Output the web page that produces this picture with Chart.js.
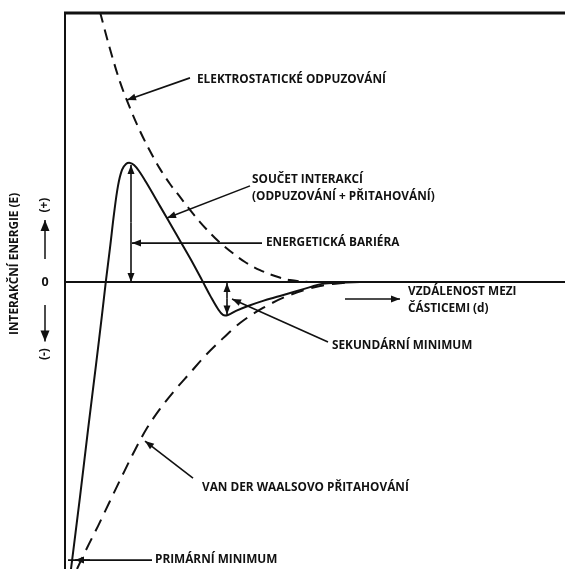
<!DOCTYPE html>
<html>
<head>
<meta charset="utf-8">
<script src="https://cdn.jsdelivr.net/npm/chart.js@4"></script>
<style>
  body { margin: 0; background: #fff; }
</style>
</head>
<body>
<canvas id="dlvoChart" width="565" height="569"></canvas>
<script>
// vzdálenost (x) a energie (y) v relativních jednotkách
const repulsionX = [0.70, 0.90, 1.10, 1.30, 1.50, 1.70, 1.90, 2.10, 2.30, 2.50, 2.70, 3.00, 3.30, 3.60, 3.90, 4.20, 4.50, 4.90];
const repulsionY = [10.0, 8.63, 7.41, 6.44, 5.59, 4.85, 4.19, 3.63, 3.15, 2.67, 2.22, 1.63, 1.15, 0.74, 0.44, 0.22, 0.07, 0];

const attractionX = [0.24, 0.44, 0.66, 0.90, 1.14, 1.40, 1.64, 1.90, 2.20, 2.50, 2.80, 3.10, 3.50, 3.96, 4.50, 5.10, 5.70];
const attractionY = [-10.63, -9.85, -9.04, -8.11, -7.19, -6.22, -5.41, -4.70, -4.00, -3.37, -2.74, -2.19, -1.52, -0.96, -0.48, -0.15, 0];

const totalX = [0.12, 0.30, 0.46, 0.62, 0.74, 0.82, 0.90, 0.98, 1.06, 1.14, 1.22, 1.30, 1.38, 1.48, 1.62, 1.90, 2.20, 2.50, 2.74, 2.92, 3.06, 3.16, 3.26, 3.42, 3.66, 3.96, 4.30, 4.64, 4.90, 5.14, 5.50, 5.90];
const totalY = [-10.63, -7.96, -5.48, -3.07, -1.22, 0.07, 1.26, 2.52, 3.56, 4.15, 4.37, 4.41, 4.33, 4.11, 3.70, 2.81, 1.85, 0.89, 0.07, -0.56, -1.00, -1.22, -1.22, -1.07, -0.89, -0.70, -0.52, -0.33, -0.19, -0.07, -0.02, 0];

const labels = {
  repulsion: 'ELEKTROSTATICKÉ ODPUZOVÁNÍ',
  total1: 'SOUČET INTERAKCÍ',
  total2: '(ODPUZOVÁNÍ + PŘITAHOVÁNÍ)',
  barrier: 'ENERGETICKÁ BARIÉRA',
  distance1: 'VZDÁLENOST MEZI',
  distance2: 'ČÁSTICEMI (d)',
  secondary: 'SEKUNDÁRNÍ MINIMUM',
  attraction: 'VAN DER WAALSOVO PŘITAHOVÁNÍ',
  primary: 'PRIMÁRNÍ MINIMUM',
  yAxis: 'INTERAKČNÍ ENERGIE (E)'
};

const toPoints = (xs, ys) => xs.map((x, i) => ({ x: x, y: ys[i] }));

const INK = '#111';
const FONT = 'bold 11.8px "Open Sans", sans-serif';

function arrow(ctx, x1, y1, x2, y2, head, len = 9, half = 3.5) {
  ctx.beginPath();
  ctx.moveTo(x1, y1);
  ctx.lineTo(x2, y2);
  ctx.stroke();
  if (!head) return;
  const a = Math.atan2(y2 - y1, x2 - x1);
  ctx.beginPath();
  ctx.moveTo(x2, y2);
  ctx.lineTo(x2 - len * Math.cos(a) + half * Math.sin(a), y2 - len * Math.sin(a) - half * Math.cos(a));
  ctx.lineTo(x2 - len * Math.cos(a) - half * Math.sin(a), y2 - len * Math.sin(a) + half * Math.cos(a));
  ctx.closePath();
  ctx.fill();
}

const annotationPlugin = {
  id: 'dlvoAnnotations',
  afterDatasetsDraw(chart) {
    const { ctx, chartArea } = chart;
    const X = v => chart.scales.x.getPixelForValue(v);
    const Y = v => chart.scales.y.getPixelForValue(v);
    ctx.save();
    ctx.strokeStyle = INK;
    ctx.fillStyle = INK;
    ctx.lineCap = 'butt';

    // rámeček: horní a levá osa, nulová linie
    ctx.lineWidth = 3;
    ctx.beginPath();
    ctx.moveTo(chartArea.left - 1, chartArea.top + 1);
    ctx.lineTo(chartArea.right, chartArea.top + 1);
    ctx.stroke();
    ctx.lineWidth = 2;
    ctx.beginPath();
    ctx.moveTo(chartArea.left, chartArea.top);
    ctx.lineTo(chartArea.left, chartArea.bottom);
    ctx.stroke();
    ctx.beginPath();
    ctx.moveTo(chartArea.left, Y(0));
    ctx.lineTo(chartArea.right, Y(0));
    ctx.stroke();

    ctx.lineWidth = 1.6;
    arrow(ctx, X(2.5), Y(7.56), X(1.24), Y(6.74), true);
    arrow(ctx, X(3.7), Y(3.56), X(2.04), Y(2.37), true);
    arrow(ctx, X(1.32), Y(2.2), X(1.32), Y(4.33), true);
    arrow(ctx, X(1.32), Y(2.2), X(1.32), Y(0), true);
    arrow(ctx, X(3.94), Y(1.44), X(1.34), Y(1.44), true);
    arrow(ctx, X(5.6), Y(-0.63), X(6.7), Y(-0.63), true);
    arrow(ctx, X(3.24), Y(-0.6), X(3.24), Y(-0.04), true);
    arrow(ctx, X(3.24), Y(-0.6), X(3.24), Y(-1.2), true);
    arrow(ctx, X(5.26), Y(-2.22), X(3.34), Y(-0.63), true);
    arrow(ctx, X(2.56), Y(-7.26), X(1.6), Y(-5.89), true);
    arrow(ctx, X(1.74), Y(-10.3), X(0.06), Y(-10.3), false);
    arrow(ctx, X(0.5), Y(-10.3), X(0.2), Y(-10.3), true);

    ctx.font = FONT;
    ctx.textBaseline = 'middle';
    ctx.textAlign = 'left';
    ctx.fillText(labels.repulsion, X(2.64), Y(7.48));
    ctx.fillText(labels.total1, X(3.74), Y(3.78));
    ctx.fillText(labels.total2, X(3.74), Y(3.15));
    ctx.fillText(labels.barrier, X(4.02), Y(1.44));
    ctx.fillText(labels.distance1, X(6.86), Y(-0.37));
    ctx.fillText(labels.distance2, X(6.86), Y(-1.0));
    ctx.fillText(labels.secondary, X(5.34), Y(-2.37));
    ctx.fillText(labels.attraction, X(2.74), Y(-7.63));
    ctx.fillText(labels.primary, X(1.8), Y(-10.3));

    // popis osy y
    const lx = chartArea.left - 50;
    const sx = chartArea.left - 20;
    ctx.textAlign = 'center';
    ctx.save();
    ctx.translate(lx, Y(0.67));
    ctx.rotate(-Math.PI / 2);
    ctx.fillText(labels.yAxis, 0, 0);
    ctx.restore();
    ctx.save();
    ctx.translate(sx, Y(2.85));
    ctx.rotate(-Math.PI / 2);
    ctx.fillText('(+)', 0, 0);
    ctx.restore();
    ctx.save();
    ctx.translate(sx, Y(-2.67));
    ctx.rotate(-Math.PI / 2);
    ctx.fillText('(-)', 0, 0);
    ctx.restore();
    ctx.font = 'bold 12.5px "Open Sans", sans-serif';
    ctx.fillText('0', sx, Y(0));
    ctx.lineWidth = 1.5;
    arrow(ctx, sx, Y(0.85), sx, Y(2.3), true, 11, 4.5);
    arrow(ctx, sx, Y(-0.85), sx, Y(-2.2), true, 11, 4.5);
    ctx.restore();
  }
};

const lineStyle = {
  showLine: true,
  pointRadius: 0,
  borderColor: INK,
  borderWidth: 2,
  fill: false
};

new Chart(document.getElementById('dlvoChart').getContext('2d'), {
  type: 'scatter',
  data: {
    datasets: [
      Object.assign({ label: labels.repulsion, data: toPoints(repulsionX, repulsionY), borderDash: [11, 7], cubicInterpolationMode: 'monotone' }, lineStyle),
      Object.assign({ label: labels.attraction, data: toPoints(attractionX, attractionY), borderDash: [13, 8], cubicInterpolationMode: 'monotone' }, lineStyle),
      Object.assign({ label: labels.total1, data: toPoints(totalX, totalY), tension: 0.35 }, lineStyle)
    ]
  },
  options: {
    responsive: false,
    animation: false,
    layout: { padding: { left: 65, top: 12, right: 0, bottom: 0 } },
    plugins: {
      legend: { display: false },
      tooltip: { enabled: false }
    },
    scales: {
      x: { type: 'linear', min: 0, max: 10, display: false },
      y: { type: 'linear', min: -10.63, max: 10, display: false }
    }
  },
  plugins: [annotationPlugin]
});
</script>
</body>
</html>
